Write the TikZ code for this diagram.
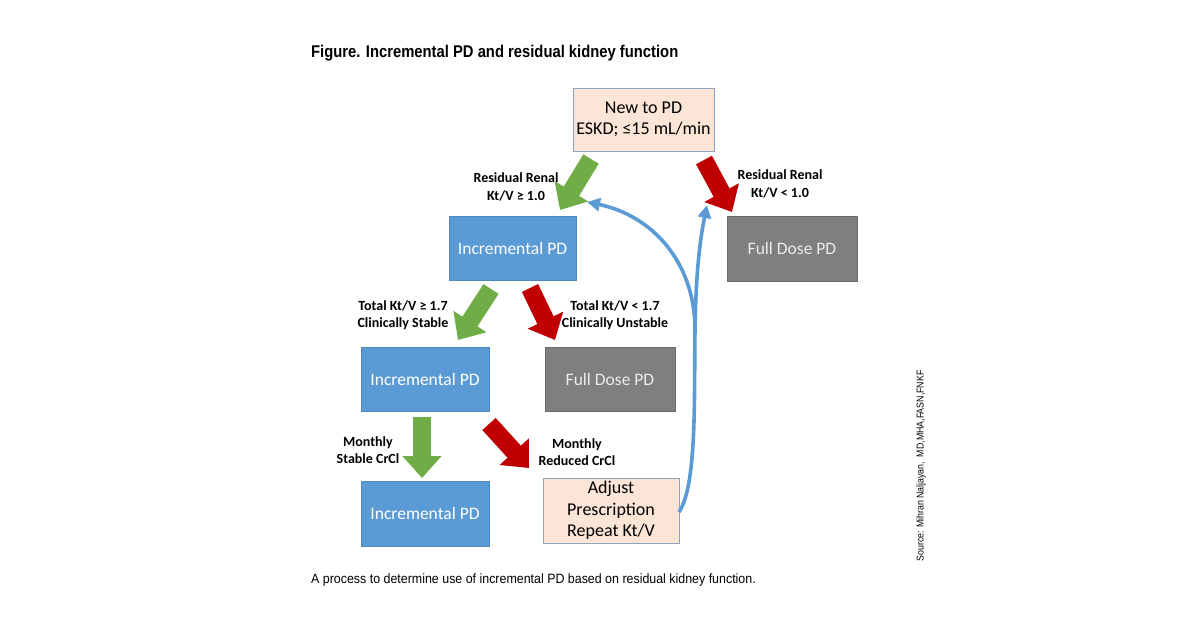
\documentclass[tikz,border=0pt]{standalone}
\usepackage{fontspec}
\usepackage{graphicx}
\setmainfont{Carlito}
\newfontfamily\capfont{Liberation Sans}
\usetikzlibrary{arrows.meta}
\definecolor{boxblue}{HTML}{5B9BD5}
\definecolor{boxblueedge}{HTML}{4F88BC}
\definecolor{boxgrey}{HTML}{7F7F7F}
\definecolor{boxgreyedge}{HTML}{6A6A6A}
\definecolor{peach}{HTML}{FBE5D6}
\definecolor{peachedge}{HTML}{8EA4BC}
\definecolor{arrgreen}{HTML}{70AD47}
\definecolor{arrred}{HTML}{C00000}
\definecolor{curveblue}{HTML}{5B9BD5}
\tikzset{
  x=1pt, y=-1pt,
  bluebox/.style={draw=boxblueedge, line width=0.8pt, fill=boxblue, text=white, font=\fontsize{17.5}{20}\selectfont, align=center, inner sep=0pt},
  greybox/.style={draw=boxgreyedge, line width=0.8pt, fill=boxgrey, text=white!92!black, font=\fontsize{17.5}{20}\selectfont, align=center, inner sep=0pt},
  peachbox/.style={draw=peachedge, line width=0.8pt, fill=peach, text=black, font=\fontsize{18}{21.5}\selectfont, align=center, inner sep=0pt},
  lbl/.style={font=\bfseries\fontsize{14}{17.5}\selectfont, align=center, inner sep=0pt},
  greenarrow/.style={draw=arrgreen, line width=18pt, -{Triangle[length=22pt,width=38pt]}},
  redarrow/.style={draw=arrred, line width=18pt, -{Triangle[length=22pt,width=38pt]}},
  loop/.style={draw=curveblue, line width=3.6pt, -{Triangle[length=13pt,width=13pt]}},
  loopplain/.style={draw=curveblue, line width=3.6pt}
}
\begin{document}
\begin{tikzpicture}
\useasboundingbox (0,0) rectangle (1200,630);
\fill[white] (0,0) rectangle (1200,630);

% title and caption
\node[anchor=base west, inner sep=0pt] (title) at (311,57)
  {\scalebox{0.87}[1]{\capfont\bfseries\fontsize{17}{20}\selectfont Figure. Incremental PD and residual kidney function}};
\node[anchor=base west, inner sep=0pt] (caption) at (311,583)
  {\scalebox{0.92}[1]{\capfont\fontsize{13.5}{16}\selectfont A process to determine use of incremental PD based on residual kidney function.}};
\node[rotate=90, inner sep=0pt] (source) at (921,466)
  {\scalebox{0.88}[1]{\capfont\fontsize{10}{12}\selectfont Source: Mihran Naljayan,\ \ MD,MHA,FASN,FNKF}};

% boxes
\node[peachbox, minimum width=141pt, minimum height=63pt] (new) at (643.5,119.5) {New to PD\\ESKD; ≤15 mL/min};
\node[bluebox, minimum width=127pt, minimum height=64pt] (inc1) at (512.5,248) {Incremental PD};
\node[greybox, minimum width=130pt, minimum height=65pt] (full1) at (792,248.5) {Full Dose PD};
\node[bluebox, minimum width=128pt, minimum height=64pt] (inc2) at (425,379) {Incremental PD};
\node[greybox, minimum width=130pt, minimum height=64pt] (full2) at (610,379) {Full Dose PD};
\node[bluebox, minimum width=128pt, minimum height=65pt] (inc3) at (425,513.5) {Incremental PD};
\node[peachbox, minimum width=136pt, minimum height=65pt] (adj) at (611,510.5) {Adjust\\Prescription\\Repeat Kt/V};

% labels
\node[lbl] (l1) at (516,187) {Residual Renal\\Kt/V ≥ 1.0};
\node[lbl] (l2) at (780,184) {Residual Renal\\Kt/V < 1.0};
\node[lbl] (l3) at (403,315) {Total Kt/V ≥ 1.7\\Clinically Stable};
\node[lbl] (l4) at (615,315) {Total Kt/V < 1.7\\Clinically Unstable};
\node[lbl] (l5) at (368,450) {Monthly\\Stable CrCl};
\node[lbl] (l6) at (577,452) {Monthly\\Reduced CrCl};

% block arrow end points
\coordinate (g1s) at (591,159); \coordinate (g1e) at (560,210);
\coordinate (r1s) at (704,160); \coordinate (r1e) at (732,212);
\coordinate (g2s) at (491,289); \coordinate (g2e) at (458,340);
\coordinate (r2s) at (530,288); \coordinate (r2e) at (555,340);
\coordinate (g3s) at (422,417); \coordinate (g3e) at (422,478);
\coordinate (r3s) at (489,424); \coordinate (r3e) at (529,468);

\draw[greenarrow] (g1s) -- (g1e);
\draw[redarrow] (r1s) -- (r1e);
\draw[greenarrow] (g2s) -- (g2e);
\draw[redarrow] (r2s) -- (r2e);
\draw[greenarrow] (g3s) -- (g3e);
\draw[redarrow] (r3s) -- (r3e);

% feedback curves
\coordinate (adjout) at (679,512);
\coordinate (split) at (695,330);
\coordinate (t1) at (707,205);
\coordinate (t2) at (587,202);
\draw[loopplain] (adjout) .. controls (697,485) and (694,400) .. (split);
\draw[loop] (split) .. controls (696,270) and (700,240) .. (t1);
\draw[loop] (split) .. controls (695,260) and (650,215) .. (t2);
\end{tikzpicture}
\end{document}
